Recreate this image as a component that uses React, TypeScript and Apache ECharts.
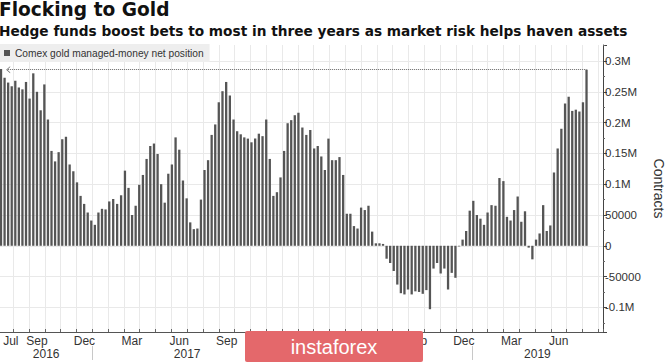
import React, { useEffect, useRef } from "react";
import * as echarts from "echarts";

// ---- data ----
const seriesName = "Comex gold managed-money net position";
const firstReportDate = "2016-07-08"; // weekly reports (Fridays)
const netPosition = [
  287000, 273000, 265000, 259000, 268000, 257000, 254000, 266000, 239000, 280000,
  250000, 220000, 262000, 205000, 154000, 137000, 152000, 173000, 177000, 132000,
  121000, 103000, 81000, 68000, 54000, 41000, 34000, 54000, 60000, 59000,
  72000, 76000, 68000, 82000, 122000, 94000, 50000, 65000, 99000, 115000,
  141000, 162000, 166000, 149000, 100000, 70000, 117000,
  132000, 176000, 156000, 106000, 77000, 38000, 27000, 28000, 75000, 123000,
  139000, 180000, 197000, 233000, 251000, 266000, 244000, 205000, 186000, 181000,
  176000, 174000, 168000, 174000, 182000, 178000, 205000, 141000, 81000, 87000,
  111000, 154000, 199000, 204000, 212000, 216000, 192000, 180000, 188000, 158000,
  162000, 145000, 123000, 174000,
  139000, 139000, 144000, 115000, 52000, 52000, 32000, 28000, 62000, 58000,
  65000, 23000, 4000, 4000, 3000, -21000, -28000, -41000, -63000, -77000,
  -79000, -71000, -79000, -74000, -75000, -78000, -72000, -103000, -37000, -28000,
  -45000, -37000, -71000, -44000, -52000, -1000, 10000, 24000, 57000, 73000,
  50000, 44000, 34000, 54000,
  66000, 65000, 110000, 105000, 47000, 41000, 58000, 80000, 39000, 56000,
  -3000, -22000, 10000, 20000, 66000, 24000, 33000, 119000, 158000, 190000,
  231000, 242000, 219000, 221000, 218000, 233000, 286000,
];
const monthNames = ["Jan", "Feb", "Mar", "Apr", "May", "Jun", "Jul", "Aug", "Sep", "Oct", "Nov", "Dec"];
// month labels visible in the reference (others are hidden by the watermark)
const monthLabelMonths = [
  "2016-07", "2016-09", "2016-12", "2017-03", "2017-06", "2017-09", "2017-12",
  "2018-09", "2018-12", "2019-03", "2019-06",
];
const yearLabels = ["2016", "2017", "2019"];
const yearBoundaryYears = [2017, 2018, 2019];
const yTickLabels: Record<string, string> = {
  "300000": "0.3M", "250000": "0.25M", "200000": "0.2M", "150000": "0.15M", "100000": "0.1M",
  "50000": "50000", "0": "0", "-50000": "-50000", "-100000": "-0.1M",
};

// ---- helpers ----
const BASE_YEAR = 2016;
function monthIndexUTC(y: number, m: number, d: number) {
  const dim = new Date(Date.UTC(y, m + 1, 0)).getUTCDate();
  return (y - BASE_YEAR) * 12 + m + (d - 1) / dim;
}
const start = new Date(firstReportDate + "T00:00:00Z").getTime();
const xValues = netPosition.map((_, i) => {
  const d = new Date(start + i * 7 * 86400000);
  return monthIndexUTC(d.getUTCFullYear(), d.getUTCMonth(), d.getUTCDate());
});

const X_MIN = 6; // Jul 2016
const X_MAX = 44.3;
const GRID_LEFT = -2.56;
const GRID_RIGHT = 62;
const PX_PER_MONTH = (665 - GRID_RIGHT - GRID_LEFT) / (X_MAX - X_MIN);
const visibleMin = X_MIN + (0 - GRID_LEFT) / PX_PER_MONTH;

const monthLabelValues = monthLabelMonths.map((s) => {
  const [y, m] = s.split("-").map(Number);
  return (y - BASE_YEAR) * 12 + (m - 1) + 0.5;
});
const yearCenters = yearLabels.map((y) => {
  const s = (Number(y) - BASE_YEAR) * 12;
  const a = Math.max(s, visibleMin);
  const b = Math.min(s + 12, X_MAX);
  return (a + b) / 2;
});
const yearBoundaries = yearBoundaryYears.map((y) => (y - BASE_YEAR) * 12);

const FONT = "'Liberation Sans', Arial, sans-serif";
const chevron = "path://M0,10 L5,0 L10,10 L8.6,10 L5,2.8 L1.4,10 Z";

export default function App() {
  const ref = useRef<HTMLDivElement>(null);
  useEffect(() => {
    if (!ref.current) return;
    const chart = echarts.init(ref.current, undefined, { renderer: "svg" });
    const last = netPosition.length - 1;
    const option: any = {
      animation: false,
      backgroundColor: "#ffffff",
      textStyle: { fontFamily: FONT },
      title: [
        {
          text: "Flocking to Gold",
          left: -1,
          top: 0,
          padding: 0,
          textStyle: { fontFamily: "'DejaVu Sans', sans-serif", fontWeight: "bold", fontSize: 18.6, color: "#111" },
        },
        {
          text: "Hedge funds boost bets to most in three years as market risk helps haven assets",
          left: -1,
          top: 24,
          padding: 0,
          textStyle: { fontFamily: "'DejaVu Sans', sans-serif", fontWeight: "bold", fontSize: 13.7, color: "#111" },
        },
      ],
      legend: {
        show: true,
        left: 0,
        top: 44,
        padding: [4, 6, 4, 4],
        itemWidth: 6,
        itemHeight: 6,
        icon: "rect",
        backgroundColor: "#eeeeee",
        selectedMode: false,
        textStyle: { fontSize: 10.2, color: "#333", fontFamily: FONT },
        data: [seriesName],
      },
      grid: {
        left: GRID_LEFT,
        right: GRID_RIGHT,
        top: 45,
        bottom: 30,
        containLabel: false,
        outerBoundsMode: "none",
      },
      xAxis: [
        {
          type: "value",
          min: X_MIN,
          max: X_MAX,
          interval: 1,
          position: "bottom",
          axisLine: { show: true, onZero: false, lineStyle: { color: "#555", width: 1 } },
          axisTick: { show: true, inside: true, length: 3, lineStyle: { color: "#666" } },
          splitLine: { show: true, showMinLine: false, showMaxLine: false, lineStyle: { color: "#e9e9e9", width: 1 } },
          axisLabel: {
            show: true,
            customValues: monthLabelValues,
            formatter: (v: number) => {
              const txt = monthNames[((Math.floor(v) % 12) + 12) % 12];
              return Math.abs(v - monthLabelValues[0]) < 0.01 ? "{first|" + txt + "}" : txt;
            },
            rich: { first: { padding: [0, 0, 0, 11], fontSize: 12, color: "#333", fontFamily: FONT } },
            margin: 3,
            fontSize: 12,
            color: "#333",
            hideOverlap: false,
          },
        },
        {
          type: "value",
          min: X_MIN,
          max: X_MAX,
          position: "bottom",
          offset: 14,
          axisLine: { show: false, onZero: false },
          axisTick: { show: true, customValues: yearBoundaries, length: 14, lineStyle: { color: "#c8c8c8" } },
          splitLine: { show: false },
          axisLabel: {
            show: true,
            customValues: yearCenters,
            formatter: (v: number) => {
              let best = 0;
              yearCenters.forEach((c, i) => {
                if (Math.abs(c - v) < Math.abs(yearCenters[best] - v)) best = i;
              });
              return yearLabels[best];
            },
            margin: 2,
            fontSize: 12,
            color: "#333",
            hideOverlap: false,
          },
        },
      ],
      yAxis: {
        type: "value",
        position: "right",
        min: -140000,
        max: 326000,
        splitNumber: 9,
        minInterval: 50000,
        maxInterval: 50000,
        axisLine: { show: true, onZero: false, lineStyle: { color: "#444" } },
        axisTick: { show: true, length: 4, lineStyle: { color: "#444" } },
        minorTick: { show: true, splitNumber: 2, length: 2, lineStyle: { color: "#666" } },
        splitLine: { show: true, showMinLine: false, showMaxLine: false, lineStyle: { color: "#e9e9e9" } },
        axisLabel: {
          margin: 2,
          fontSize: 11.5,
          color: "#333",
          showMinLabel: false,
          showMaxLabel: false,
          formatter: (v: number) => yTickLabels[String(v)] ?? "",
        },
        name: "Contracts",
        nameLocation: "middle",
        nameRotate: -90,
        nameGap: 39,
        nameTextStyle: { fontSize: 14, color: "#333", fontFamily: FONT },
      },
      series: [
        {
          type: "bar",
          name: seriesName,
          xAxisIndex: 0,
          yAxisIndex: 0,
          barWidth: 2.3,
          silent: true,
          itemStyle: { color: "#555555" },
          data: xValues.map((x, i) => [x, netPosition[i]]),
          markLine: {
            silent: true,
            symbol: [chevron, "none"],
            symbolSize: [7, 4],
            label: { show: false },
            lineStyle: { type: "dotted", color: "#666", width: 1 },
            emphasis: { disabled: true },
            data: [[{ coord: [xValues[2], netPosition[last]] }, { coord: [xValues[last], netPosition[last]] }]],
          },
        },
      ],
      graphic: [
        {
          type: "rect",
          z: 100,
          shape: { x: 245, y: 331, width: 178, height: 31, r: 2 },
          style: { fill: "#e4686b" },
        },
        {
          type: "text",
          z: 101,
          x: 334,
          y: 347,
          style: {
            text: "instaforex",
            fill: "#ffffff",
            font: "20px 'Liberation Sans', Arial, sans-serif",
            align: "center",
            verticalAlign: "middle",
          },
        },
      ],
    };
    chart.setOption(option);
    return () => chart.dispose();
  }, []);
  return <div ref={ref} style={{ position: "fixed", left: 0, top: 0, width: 665, height: 362 }} />;
}
